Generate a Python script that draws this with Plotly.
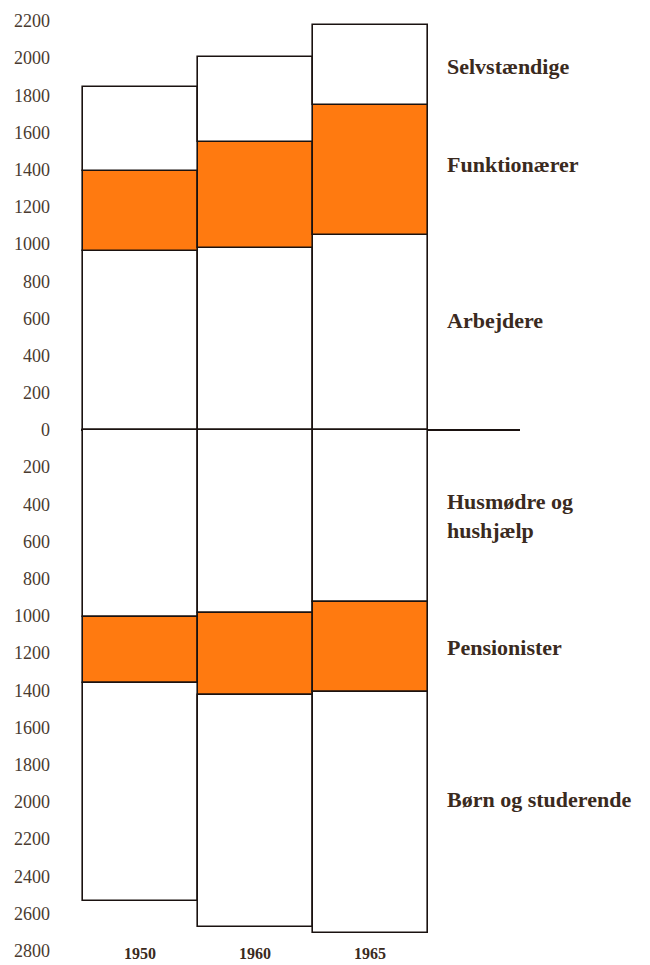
import plotly.graph_objects as go

years = ["1950", "1960", "1965"]
# above zero (stacked upward)
arbejdere = [960, 980, 1050]
funktionaerer = [430, 570, 700]
selvstaendige = [455, 455, 425]
# below zero (stacked downward)
husmoedre = [1005, 985, 925]
pensionister = [357, 440, 485]
boern = [1168, 1250, 1296]

tick_vals = list(range(-2800, 2201, 200))
tick_text = [str(abs(v)) for v in tick_vals]

series = [
    ("Arbejdere", arbejdere, 1, "white"),
    ("Funktionærer", funktionaerer, 1, "#FF7A10"),
    ("Selvstændige", selvstaendige, 1, "white"),
    ("Husmødre og<br>hushjælp", husmoedre, -1, "white"),
    ("Pensionister", pensionister, -1, "#FF7A10"),
    ("Børn og studerende", boern, -1, "white"),
]
label_y = [591, 1425, 1957, -462, -1172, -1989]

xpos = list(range(len(years)))
fig = go.Figure()
for name, vals, sign, col in series:
    fig.add_trace(go.Bar(
        x=xpos, y=[sign * v for v in vals], width=1.0, name=name,
        marker=dict(color=col, line=dict(color="#1a1210", width=1.6)),
        showlegend=False, cliponaxis=False,
    ))

ann = []
for (name, vals, sign, col), ly in zip(series, label_y):
    ann.append(dict(x=2.65, y=ly, xref="x", yref="y", text="<b>" + name + "</b>",
                    showarrow=False, xanchor="left", yanchor="middle", align="left",
                    font=dict(family="Liberation Serif", size=22, color="#3a2a20")))
for i, yr in enumerate(years):
    ann.append(dict(x=xpos[i], y=-2815, xref="x", yref="y", text="<b>" + yr + "</b>",
                    showarrow=False, xanchor="center", yanchor="middle",
                    font=dict(family="Liberation Serif", size=16, color="#3a2a20")))

fig.update_layout(
    width=650, height=965,
    margin=dict(l=81, r=130, t=8, b=2, autoexpand=False),
    barmode="relative", bargap=0,
    plot_bgcolor="white", paper_bgcolor="white",
    annotations=ann,
    xaxis=dict(range=[-0.517, 3.3], visible=False, showgrid=False, zeroline=False,
               automargin=False),
    yaxis=dict(range=[-2866, 2269], tickvals=tick_vals, ticktext=tick_text,
               showgrid=False, zeroline=True, zerolinecolor="#1a1210", zerolinewidth=1.6,
               showline=False, ticks="", ticklabelstandoff=30, automargin=False,
               tickfont=dict(family="Liberation Serif", size=18, color="#4a3b30")),
)

fig.write_html("out.html", config={"displayModeBar": False},
               post_script="document.body.style.margin='0';")
